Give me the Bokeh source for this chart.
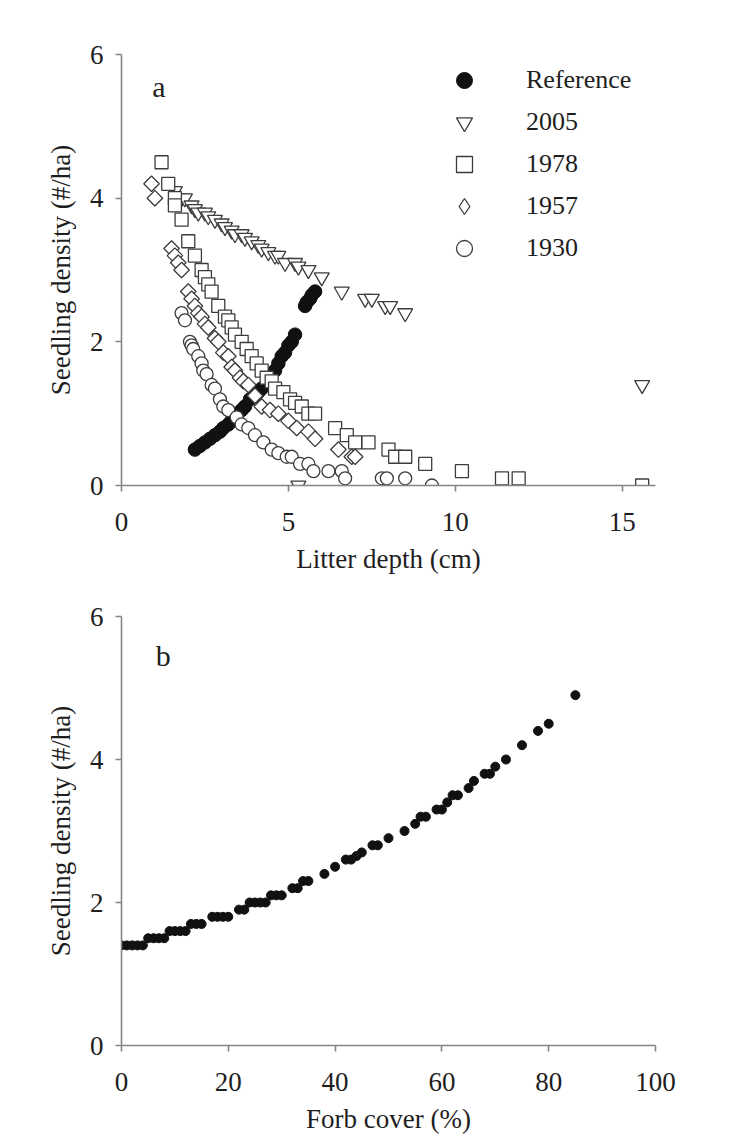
import math
from bokeh.plotting import figure
from bokeh.models import Range1d, FixedTicker, Legend, LegendItem, Label, Scatter
from bokeh.layouts import column
from bokeh.embed import file_html
from bokeh.resources import INLINE

# ---------------- Panel a data: seedling density vs litter depth ----------------
ref_x = [2.2, 2.35, 2.5, 2.65, 2.8, 2.95, 3.05, 3.2, 3.3, 3.45, 3.6, 3.7, 3.85, 4.0, 4.1, 4.2,
         4.5, 4.6, 4.7, 4.8, 4.9, 5.0, 5.1, 5.2, 5.5, 5.55, 5.65, 5.7, 5.8]
ref_y = [0.5, 0.55, 0.6, 0.65, 0.7, 0.75, 0.8, 0.85, 0.9, 1.0, 1.05, 1.1, 1.2, 1.25, 1.3, 1.35,
         1.55, 1.6, 1.7, 1.8, 1.85, 1.95, 2.0, 2.1, 2.5, 2.55, 2.6, 2.65, 2.7]

y2005_x = [1.6, 1.8, 1.9, 2.1, 2.2, 2.3, 2.5, 2.6, 2.8, 3.0, 3.1, 3.3, 3.4, 3.6, 3.7, 3.9, 4.1,
           4.2, 4.4, 4.6, 4.7, 4.9, 5.2, 5.3, 5.6, 6.0, 6.6, 7.3, 7.5, 7.9, 8.05, 8.5, 15.6, 5.3]
y2005_y = [4.1, 4.0, 4.0, 3.9, 3.85, 3.8, 3.8, 3.75, 3.7, 3.65, 3.6, 3.55, 3.5, 3.5, 3.45, 3.4, 3.35,
           3.3, 3.25, 3.2, 3.2, 3.1, 3.1, 3.05, 3.0, 2.9, 2.7, 2.6, 2.6, 2.5, 2.5, 2.4, 1.4, 0.0]

y1978_x = [1.2, 1.4, 1.6, 1.6, 1.8, 2.0, 2.2, 2.4, 2.5, 2.6, 2.7, 2.9, 3.1, 3.2, 3.3, 3.4, 3.6,
           3.75, 3.9, 4.05, 4.2, 4.35, 4.5, 4.6, 4.85, 5.05, 5.2, 5.4, 5.6, 5.8, 6.4, 6.75, 7.0,
           7.4, 8.0, 8.2, 8.5, 9.1, 10.2, 11.4, 11.9, 15.6]
y1978_y = [4.5, 4.2, 4.0, 3.9, 3.7, 3.4, 3.2, 3.0, 2.9, 2.8, 2.7, 2.5, 2.35, 2.3, 2.2, 2.1, 2.0,
           1.9, 1.8, 1.7, 1.6, 1.5, 1.45, 1.35, 1.3, 1.2, 1.15, 1.1, 1.0, 1.0, 0.8, 0.7, 0.6,
           0.6, 0.5, 0.4, 0.4, 0.3, 0.2, 0.1, 0.1, 0.0]

y1957_x = [0.9, 1.0, 1.5, 1.6, 1.7, 1.8, 2.0, 2.1, 2.2, 2.3, 2.4, 2.5, 2.6, 2.8, 2.9, 3.05, 3.2,
           3.3, 3.4, 3.55, 3.65, 3.8, 4.0, 4.2, 4.45, 4.7, 5.0, 5.25, 5.6, 5.8, 6.5, 6.9, 7.0]
y1957_y = [4.2, 4.0, 3.3, 3.2, 3.1, 3.0, 2.7, 2.6, 2.5, 2.4, 2.35, 2.25, 2.2, 2.05, 2.0, 1.85, 1.8,
           1.65, 1.6, 1.5, 1.45, 1.4, 1.25, 1.1, 1.05, 1.0, 0.9, 0.8, 0.75, 0.65, 0.5, 0.4, 0.4]

y1930_x = [1.8, 1.9, 2.05, 2.1, 2.15, 2.3, 2.4, 2.45, 2.55, 2.7, 2.8, 2.95, 3.05, 3.2, 3.45, 3.6,
           3.8, 4.0, 4.25, 4.5, 4.7, 4.95, 5.1, 5.35, 5.6, 5.75, 6.2, 6.6, 6.7, 7.8, 7.95, 8.5, 9.3]
y1930_y = [2.4, 2.3, 2.0, 1.95, 1.9, 1.8, 1.7, 1.6, 1.55, 1.4, 1.35, 1.2, 1.1, 1.05, 0.95, 0.85,
           0.8, 0.7, 0.6, 0.5, 0.45, 0.4, 0.4, 0.3, 0.3, 0.2, 0.2, 0.2, 0.1, 0.1, 0.1, 0.1, 0.0]

series_labels = ["Reference", "2005", "1978", "1957", "1930"]
xticks_a = [0, 5, 10, 15]
yticks = [0, 2, 4, 6]

# ---------------- Panel b data: seedling density vs forb cover ----------------
forb_x = [0, 1, 2, 3, 4, 5, 6, 7, 8, 9, 10, 11, 12, 13, 14, 15, 17, 18, 19, 20, 22, 23,
          24, 25, 26, 27, 28, 29, 30, 32, 33, 34, 35, 38, 40, 42, 43, 44, 45, 47, 48, 50,
          53, 55, 56, 57, 59, 60, 61, 62, 63, 65, 66, 68, 69, 70, 72, 75, 78, 80, 85]
forb_y = [1.4, 1.4, 1.4, 1.4, 1.4, 1.5, 1.5, 1.5, 1.5, 1.6, 1.6, 1.6, 1.6, 1.7, 1.7, 1.7,
          1.8, 1.8, 1.8, 1.8, 1.9, 1.9, 2.0, 2.0, 2.0, 2.0, 2.1, 2.1, 2.1, 2.2, 2.2, 2.3, 2.3,
          2.4, 2.5, 2.6, 2.6, 2.65, 2.7, 2.8, 2.8, 2.9, 3.0, 3.1, 3.2, 3.2, 3.3, 3.3, 3.4,
          3.5, 3.5, 3.6, 3.7, 3.8, 3.8, 3.9, 4.0, 4.2, 4.4, 4.5, 4.9]
xticks_b = [0, 20, 40, 60, 80, 100]

SERIF = "Liberation Serif"
AXIS_COLOR = "#858585"
TEXT_COLOR = "#1e1e1e"
MARK_LINE = "#3c3c3c"


def style(p, xticks):
    p.xgrid.visible = False
    p.ygrid.visible = False
    p.outline_line_color = None
    p.xaxis.ticker = FixedTicker(ticks=xticks)
    p.yaxis.ticker = FixedTicker(ticks=yticks)
    for ax in (p.xaxis, p.yaxis):
        ax.axis_line_color = AXIS_COLOR
        ax.axis_line_width = 1.6
        ax.major_tick_line_color = AXIS_COLOR
        ax.major_tick_line_width = 1.6
        ax.major_tick_in = 0
        ax.major_tick_out = 6
        ax.minor_tick_line_color = None
        ax.major_label_text_font = SERIF
        ax.major_label_text_font_size = "27px"
        ax.major_label_text_color = TEXT_COLOR
        ax.axis_label_text_font = SERIF
        ax.axis_label_text_font_size = "27px"
        ax.axis_label_text_font_style = "normal"
        ax.axis_label_text_color = TEXT_COLOR
    p.xaxis.major_label_standoff = 21
    p.yaxis.major_label_standoff = 12
    p.xaxis.axis_label_standoff = 10
    p.yaxis.axis_label_standoff = 11


# ---------------- Figure a ----------------
pa = figure(frame_width=534, frame_height=431, output_backend="svg", toolbar_location=None,
            x_range=Range1d(0, 16), y_range=Range1d(0, 6),
            min_border_left=121, min_border_right=55, min_border_top=54, min_border_bottom=100,
            background_fill_color="white", border_fill_color="white")
style(pa, xticks_a)
pa.xaxis.axis_label = "Litter depth (cm)"
pa.yaxis.axis_label = "Seedling density (#/ha)"

r_ref = pa.scatter(ref_x, ref_y, marker="circle", size=13.5, fill_color="#111111",
                   line_color="#111111", line_width=1)
r_05 = pa.scatter(y2005_x, y2005_y, marker="inverted_triangle", size=15, fill_color="white",
                  line_color=MARK_LINE, line_width=1.3)
r_78 = pa.scatter(y1978_x, y1978_y, marker="square", size=13, fill_color="white",
                  line_color=MARK_LINE, line_width=1.3)
r_57 = pa.scatter(y1957_x, y1957_y, marker="square", angle=math.pi / 4, size=11,
                  fill_color="white", line_color=MARK_LINE, line_width=1.3)
r_30 = pa.scatter(y1930_x, y1930_y, marker="circle", size=13, fill_color="white",
                  line_color=MARK_LINE, line_width=1.3)
# legend key for the 1957 series: legend glyphs are drawn unrotated, so a diamond
# marker renderer of the same data is kept muted (invisible in the plot) for the key
r_57_key = pa.scatter(y1957_x, y1957_y, marker="diamond", size=14, fill_color="white",
                      line_color=MARK_LINE, line_width=1.3)
r_57_key.muted_glyph = Scatter(marker="diamond", fill_alpha=0, line_alpha=0)
r_57_key.muted = True

legend = Legend(items=[LegendItem(label=lab, renderers=[r]) for lab, r in
                       zip(series_labels, [r_ref, r_05, r_78, r_57_key, r_30])],
                location=(323, 217), orientation="vertical",
                label_text_font=SERIF, label_text_font_size="26px",
                label_text_color=TEXT_COLOR, label_height=40, glyph_height=40,
                glyph_width=40, label_standoff=42, spacing=2, padding=0, margin=0,
                border_line_color=None, background_fill_alpha=0)
pa.add_layout(legend)

pa.add_layout(Label(x=1.12, y=5.56, text="a", text_font=SERIF, text_font_size="30px",
                    text_color=TEXT_COLOR, text_align="center", text_baseline="middle"))

# ---------------- Figure b ----------------
pb = figure(frame_width=534, frame_height=429, output_backend="svg", toolbar_location=None,
            x_range=Range1d(0, 100), y_range=Range1d(0, 6),
            min_border_left=121, min_border_right=55, min_border_top=31, min_border_bottom=86,
            background_fill_color="white", border_fill_color="white")
style(pb, xticks_b)
pb.xaxis.axis_label = "Forb cover (%)"
pb.yaxis.axis_label = "Seedling density (#/ha)"
pb.scatter(forb_x, forb_y, marker="circle", size=9, fill_color="#111111", line_color="#111111")
pb.add_layout(Label(x=7.8, y=5.45, text="b", text_font=SERIF, text_font_size="30px",
                    text_color=TEXT_COLOR, text_align="center", text_baseline="middle"))

layout = column(pa, pb, spacing=0)
open("out.html", "w").write(file_html(layout, INLINE))
